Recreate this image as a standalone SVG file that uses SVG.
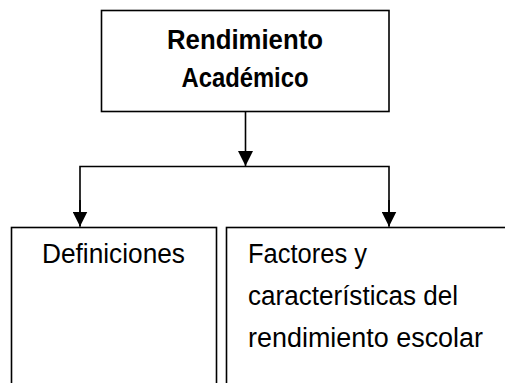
<svg xmlns="http://www.w3.org/2000/svg" width="505" height="383" viewBox="0 0 505 383">
  <defs>
    <style>
      .box { fill: #ffffff; stroke: #000000; stroke-width: 1.6; }
      .conn { fill: none; stroke: #000000; stroke-width: 1.6; }
      .t { font-family: "Liberation Sans", Arial, sans-serif; font-size: 27px; fill: #000000; }
      .tb { font-family: "Liberation Sans", Arial, sans-serif; font-size: 27px; font-weight: bold; fill: #000000; text-anchor: middle; }
    </style>
    <marker id="arrow" markerUnits="userSpaceOnUse" markerWidth="15" markerHeight="15" refX="15" refY="7.5" orient="auto" viewBox="0 0 15 15">
      <path d="M0,0 L15,7.5 L0,15 Z" fill="#000000"/>
    </marker>
  </defs>
  <rect width="505" height="383" fill="#ffffff"/>

  <g id="connectors">
    <line class="conn" x1="245.5" y1="111" x2="245.5" y2="166" marker-end="url(#arrow)"/>
    <polyline class="conn" points="80,226.5 80,166.5 389,166.5 389,226.5"/>
    <line class="conn" x1="80" y1="200" x2="80" y2="226.5" marker-end="url(#arrow)"/>
    <line class="conn" x1="389" y1="200" x2="389" y2="226.5" marker-end="url(#arrow)"/>
  </g>

  <g id="node-rendimiento">
    <rect class="box" x="101.5" y="10.5" width="287.5" height="101"/>
    <text class="tb" x="245" y="48.5" textLength="156" lengthAdjust="spacingAndGlyphs">Rendimiento</text>
    <text class="tb" x="245" y="87" textLength="127" lengthAdjust="spacingAndGlyphs">Académico</text>
  </g>

  <g id="node-definiciones">
    <rect class="box" x="11.5" y="227.5" width="205" height="170"/>
    <text class="t" x="42" y="263" textLength="143" lengthAdjust="spacingAndGlyphs">Definiciones</text>
  </g>

  <g id="node-factores">
    <rect class="box" x="226.5" y="227.5" width="300" height="170"/>
    <text class="t" x="248" y="263" textLength="119" lengthAdjust="spacingAndGlyphs">Factores y</text>
    <text class="t" x="248" y="305" textLength="210" lengthAdjust="spacingAndGlyphs">características del</text>
    <text class="t" x="248" y="347" textLength="235" lengthAdjust="spacingAndGlyphs">rendimiento escolar</text>
  </g>
</svg>
